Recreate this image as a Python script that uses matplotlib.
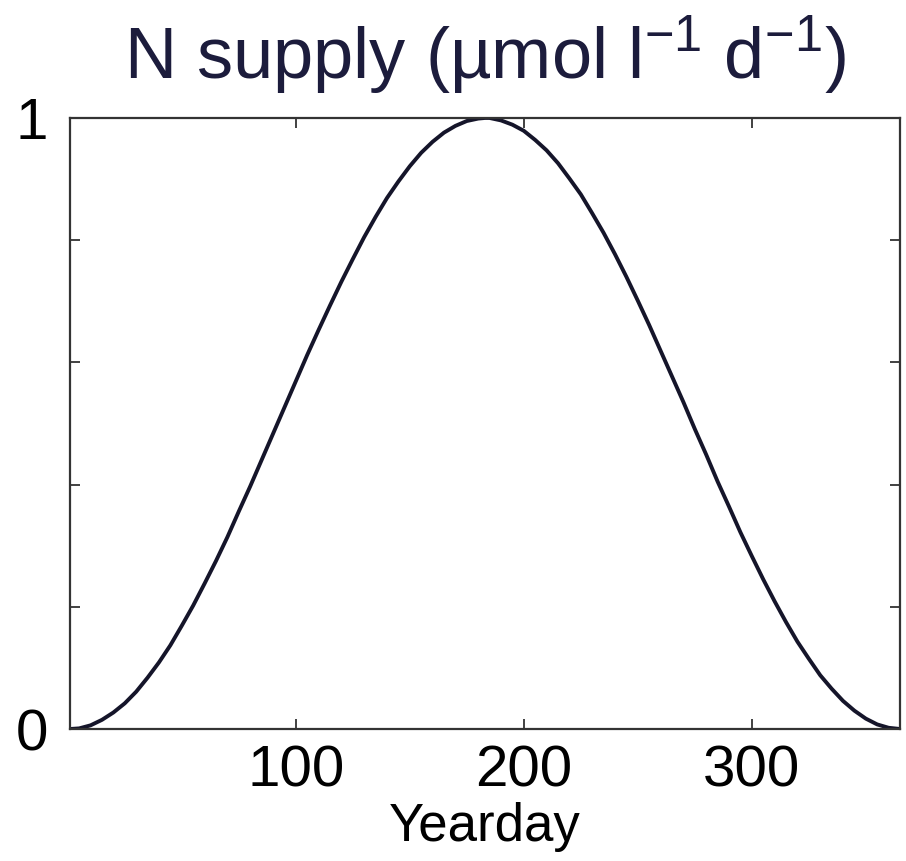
import matplotlib

matplotlib.use("Agg")
import matplotlib.pyplot as plt

# ── 数据（从图上读取，约每 5 天一个点） ──────────────────────────────────────
yearday = [1, 5, 10, 15, 20, 25, 30, 35, 40, 45, 50, 55, 60, 65, 70, 75, 80,
           85, 90, 95, 100, 105, 110, 115, 120, 125, 130, 135, 140, 145, 150,
           155, 160, 165, 170, 175, 180, 183, 185, 190, 195, 200, 205, 210,
           215, 220, 225, 230, 235, 240, 245, 250, 255, 260, 265, 270, 275,
           280, 285, 290, 295, 300, 305, 310, 315, 320, 325, 330, 335, 340,
           345, 350, 355, 360, 365]
n_supply = [0.0, 0.001, 0.006, 0.015, 0.027, 0.042, 0.061, 0.084, 0.109,
            0.137, 0.169, 0.202, 0.238, 0.275, 0.314, 0.356, 0.397, 0.440,
            0.483, 0.526, 0.569, 0.612, 0.653, 0.693, 0.732, 0.769, 0.805,
            0.838, 0.869, 0.896, 0.921, 0.943, 0.961, 0.976, 0.987, 0.995,
            0.999, 1.0, 1.0, 0.996, 0.989, 0.979, 0.964, 0.947, 0.926, 0.901,
            0.875, 0.844, 0.812, 0.777, 0.740, 0.701, 0.661, 0.619, 0.577,
            0.535, 0.491, 0.449, 0.405, 0.364, 0.322, 0.283, 0.245, 0.209,
            0.175, 0.143, 0.115, 0.088, 0.066, 0.046, 0.030, 0.017, 0.0075,
            0.002, 0.0]

x_ticks = [100, 200, 300]
y_ticks = [0, 0.2, 0.4, 0.6, 0.8, 1]
y_ticklabels = ["0", "", "", "", "", "1"]

plt.rcParams["font.family"] = ["Liberation Sans", "DejaVu Sans"]
plt.rcParams["mathtext.fontset"] = "custom"
plt.rcParams["mathtext.rm"] = "Liberation Sans"

fig = plt.figure(figsize=(9.06, 8.61), dpi=100)
ax = fig.add_axes([0.0773, 0.1533, 0.9161, 0.7097])

ax.plot(yearday, n_supply, color="#15152a", lw=2.8, solid_capstyle="round")

ax.set_xlim(1, 365)
ax.set_ylim(0, 1)
ax.set_xticks(x_ticks)
ax.set_xticklabels([str(t) for t in x_ticks])
ax.set_yticks(y_ticks)
ax.set_yticklabels(y_ticklabels)
ax.tick_params(direction="in", length=7, width=1.3, top=True, right=True,
               labelsize=42, color="#333333")
ax.tick_params(axis="x", pad=11)
ax.tick_params(axis="y", pad=16)
for sp in ax.spines.values():
    sp.set_linewidth(1.6)
    sp.set_color("#333333")

ax.set_xlabel("Yearday", fontsize=38, labelpad=3)
ax.set_title("N supply (µmol l$^{-1}$ d$^{-1}$)", fontsize=52,
             color="#1c1c3c", pad=28)

fig.savefig("out.png", dpi=100)
